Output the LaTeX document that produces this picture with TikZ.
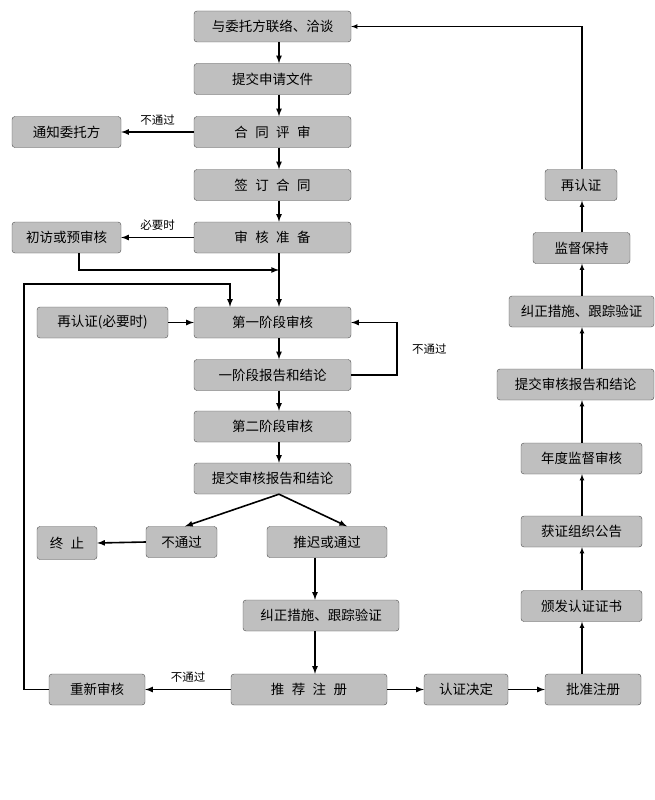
\documentclass[tikz,border=0pt]{standalone}
\usepackage{fontspec}
\setmainfont{Noto Sans CJK SC}
\newcommand{\wordgap}{\hspace{0.55em}}

\begin{document}
\begin{tikzpicture}[>=latex, x=1pt, y=-1pt]
\useasboundingbox (0,0) rectangle (655,800);
\tikzset{BoxStyle/.style = {draw=black!70, fill=black!25, rounded corners=3pt,
                            minimum height=31pt, inner sep=0pt,
                            font=\fontsize{13.5}{14}\selectfont},
         EdgeStyle/.style = {->, line width=1.6pt},
         ThinEdge/.style  = {->, line width=1.1pt},
         LabelStyle/.style = {font=\fontsize{11.5}{12}\selectfont, inner sep=1pt}
  }
% axes of the arrows
\coordinate (axis) at (279,0);
\coordinate (lowaxis) at (315,0);
\coordinate (raxis) at (582,0);
\coordinate (loopl) at (24,284);
\coordinate (join) at (279,270);

% main column
\node[BoxStyle, minimum width=157pt] (contact) at (272.5,26.5) {与委托方联络、洽谈};
\node[BoxStyle, minimum width=157pt] (apply) at (272.5,79) {提交申请文件};
\node[BoxStyle, minimum width=157pt] (review) at (272.5,132) {合\wordgap 同\wordgap 评\wordgap 审};
\node[BoxStyle, minimum width=157pt] (sign) at (272.5,185) {签\wordgap 订\wordgap 合\wordgap 同};
\node[BoxStyle, minimum width=157pt] (prep) at (272.5,237.5) {审\wordgap 核\wordgap 准\wordgap 备};
\node[BoxStyle, minimum width=157pt] (stage1) at (272.5,322.5) {第一阶段审核};
\node[BoxStyle, minimum width=157pt] (report1) at (272.5,375) {一阶段报告和结论};
\node[BoxStyle, minimum width=157pt] (stage2) at (272.5,426.5) {第二阶段审核};
\node[BoxStyle, minimum width=157pt] (report2) at (272.5,478.5) {提交审核报告和结论};
%-----------------------------
\node[BoxStyle, minimum width=109pt] (notify) at (66.5,132) {通知委托方};
\node[BoxStyle, minimum width=109pt] (visit) at (66.5,237.5) {初访或预审核};
\node[BoxStyle, minimum width=131pt] (recert1) at (102.5,322.5) {再认证(必要时)};
%-----------------------------
\node[BoxStyle, minimum width=71pt] (fail) at (181.5,542) {不通过};
\node[BoxStyle, minimum width=60pt, minimum height=33pt] (stop) at (67,543) {终\wordgap 止};
\node[BoxStyle, minimum width=120pt] (pass) at (327,542) {推迟或通过};
\node[BoxStyle, minimum width=156pt] (fix) at (321,615.5) {纠正措施、跟踪验证};
\node[BoxStyle, minimum width=156pt] (recommend) at (309,689.5) {推\wordgap 荐\wordgap 注\wordgap 册};
\node[BoxStyle, minimum width=96pt] (redo) at (97,689.5) {重新审核};
\node[BoxStyle, minimum width=84pt] (decide) at (466,689.5) {认证决定};
\node[BoxStyle, minimum width=96pt] (approve) at (593,689.5) {批准注册};
%-----------------------------
\node[BoxStyle, minimum width=121pt] (issue) at (581.5,606) {颁发认证证书};
\node[BoxStyle, minimum width=121pt] (notice) at (581.5,531.5) {获证组织公告};
\node[BoxStyle, minimum width=121pt] (annual) at (581.5,458.5) {年度监督审核};
\node[BoxStyle, minimum width=157pt] (report3) at (575.5,384.5) {提交审核报告和结论};
\node[BoxStyle, minimum width=145pt] (fix2) at (581.5,311.5) {纠正措施、跟踪验证};
\node[BoxStyle, minimum width=97pt] (keep) at (581.5,248) {监督保持};
\node[BoxStyle, minimum width=72pt] (recert2) at (581,185) {再认证};

% main column arrows
\foreach \a/\b in {contact/apply, apply/review, review/sign, sign/prep,
                   prep/stage1, stage1/report1, report1/stage2, stage2/report2}
  \draw[EdgeStyle] (\a.south -| axis) -- (\b.north -| axis);

\draw[EdgeStyle] (review.west) -- node[LabelStyle, above=5pt] {不通过} (notify.east);
\draw[EdgeStyle] (prep.west) -- node[LabelStyle, above=5pt] {必要时} (visit.east);
\draw[EdgeStyle] ([xshift=12.5pt]visit.south) |- (join);
\draw[EdgeStyle] (recert1.east) -- (stage1.west);
\draw[EdgeStyle] (report1.east) -- ++(46,0) |- node[LabelStyle, pos=0.25, right=13pt] {不通过} (stage1.east);
\draw[EdgeStyle] (redo.west) -| (loopl) -| ([xshift=-42.5pt]stage1.north);

% split after the second stage
\draw[EdgeStyle] (report2.south -| axis) -- ([xshift=3.5pt]fail.north);
\draw[EdgeStyle] (report2.south -| axis) -- ([xshift=20pt]pass.north);
\draw[EdgeStyle] (fail.west) -- (stop.east);
\draw[EdgeStyle] (pass.south -| lowaxis) -- (fix.north -| lowaxis);
\draw[EdgeStyle] (fix.south -| lowaxis) -- (recommend.north -| lowaxis);
\draw[EdgeStyle] (recommend.west) -- node[LabelStyle, above=5pt] {不通过} (redo.east);
\draw[EdgeStyle] (recommend.east) -- (decide.west);
\draw[EdgeStyle] (decide.east) -- (approve.west);

% right column
\foreach \a/\b in {approve/issue, issue/notice, notice/annual, annual/report3,
                   report3/fix2, fix2/keep, keep/recert2}
  \draw[ThinEdge] (\a.north -| raxis) -- (\b.south -| raxis);
\draw[ThinEdge] (recert2.north -| raxis) |- (contact.east);

\end{tikzpicture}
\end{document}
